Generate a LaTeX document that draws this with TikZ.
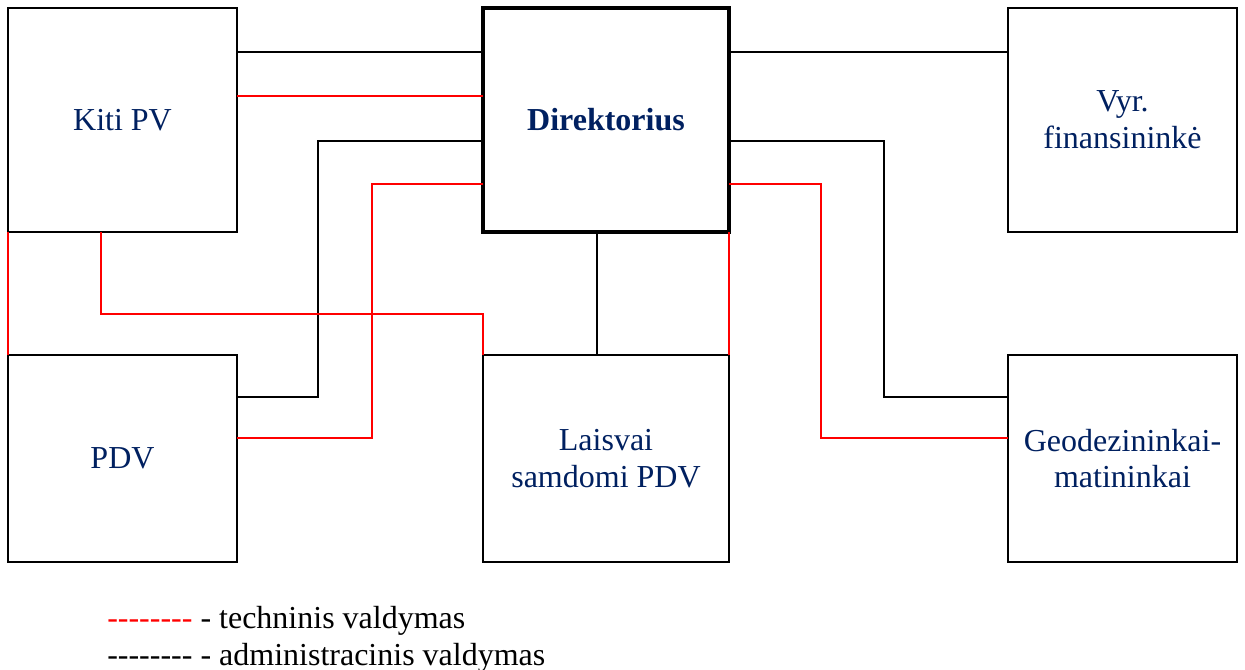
\documentclass[tikz,border=0pt]{standalone}
\usepackage{fontspec}
\setmainfont{Liberation Serif}
\definecolor{boxtext}{RGB}{0,32,96}
\tikzset{
  unit/.style={draw,line width=1pt,align=center,inner sep=0pt,outer sep=0pt,text=boxtext,
    font=\fontsize{24}{27.6}\selectfont},
  adm/.style={line width=.9pt},
  tech/.style={red,line width=.9pt},
}
\newcommand\dashrun{-\kern0pt-\kern0pt-\kern0pt-\kern0pt-\kern0pt-\kern0pt-\kern0pt-}
\begin{document}
\begin{tikzpicture}[x=.75pt,y=-.75pt]
\useasboundingbox (0,0) rectangle (1245,670);
% top row
\node[unit,minimum width=171.75pt,minimum height=168pt] (kiti) at (122.5,120) {Kiti PV};
\node[unit,line width=3pt,minimum width=184.5pt,minimum height=168pt] (dir) at (606,120) {\bfseries Direktorius};
\node[unit,minimum width=171.75pt,minimum height=168pt] (vyr) at (1122.5,120) {Vyr.\\finansininkė};
% bottom row
\node[unit,minimum width=171.75pt,minimum height=155.25pt] (pdv) at (122.5,458.5) {PDV};
\node[unit,minimum width=184.5pt,minimum height=155.25pt] (lais) at (606,458.5) {Laisvai\\samdomi PDV};
\node[unit,minimum width=171.75pt,minimum height=155.25pt] (geo) at (1122.5,458.5) {Geodezininkai-\\matininkai};

% administracinis
\draw[adm](kiti.east|-0,52)--(dir.west|-0,52);
\draw[adm](dir.east|-0,52)--(vyr.west|-0,52);
\draw[adm](dir.west|-0,141)-|(318,397)--(pdv.east|-0,397);
\draw[adm](dir.east|-0,141)-|(884,397)--(geo.west|-0,397);
\draw[adm](dir.south-|597,0)--(lais.north-|597,0);
% techninis
\draw[tech](kiti.east|-0,96)--(dir.west|-0,96);
\draw[tech](dir.west|-0,184)-|(372,438)--(pdv.east|-0,438);
\draw[tech](dir.east|-0,184)-|(821,438)--(geo.west|-0,438);
\draw[tech](lais.north east|-dir.south)--(lais.north east);
\draw[tech](kiti.south west)--(pdv.north west);
\draw[tech](kiti.south-|101,0)|-(483,314)--(lais.north west);

% legend
\node[anchor=base west,inner sep=0pt,font=\fontsize{24}{27.6}\selectfont] (leg1) at (107,628) {\textcolor{red}{\dashrun} - techninis valdymas};
\node[anchor=base west,inner sep=0pt,font=\fontsize{24}{27.6}\selectfont] (leg2) at (107,665) {\dashrun{} - administracinis valdymas};
\end{tikzpicture}
\end{document}
